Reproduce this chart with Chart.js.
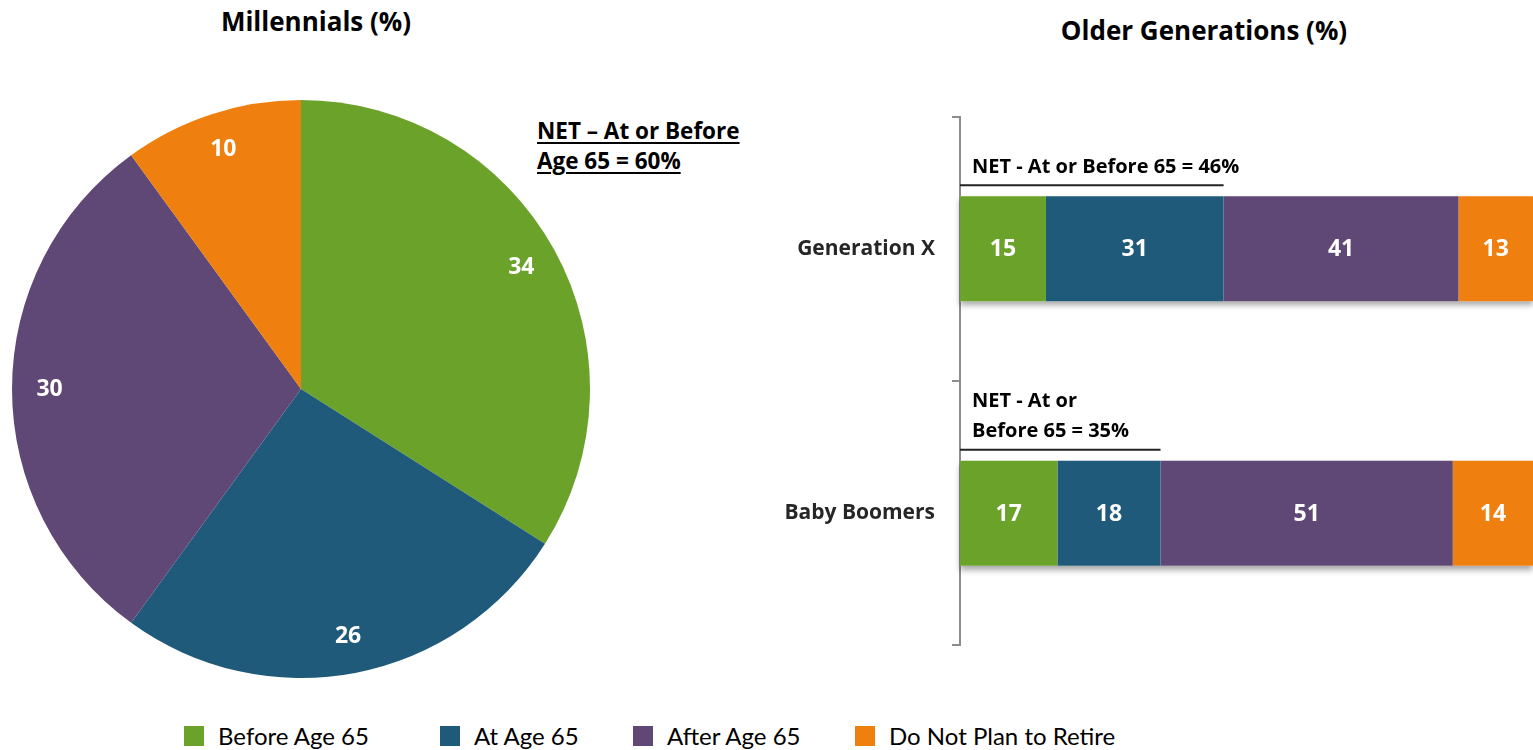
<!DOCTYPE html>
<html>
<head>
<meta charset="utf-8">
<script src="https://cdn.jsdelivr.net/npm/chart.js@4"></script>
<style>
  body { margin: 0; background: #fff; font-family: "Open Sans", sans-serif; }
  #page { position: relative; width: 1533px; height: 750px; overflow: hidden; }
  .title { position: absolute; font-weight: bold; font-size: 26px; color: #000; transform: translateX(-50%); white-space: nowrap; }
  #pieNet { position: absolute; left: 537px; top: 116px; font-weight: bold; font-size: 22.5px; line-height: 30px; text-decoration: underline; text-decoration-thickness: 2px; text-underline-offset: 3px; color: #000; }
  #pieBox { position: absolute; left: 12px; top: 100px; width: 578px; height: 578px; }
  #barBox { position: absolute; left: 700px; top: 87px; width: 833px; height: 588px; }
  #legend { position: absolute; top: 721px; left: 0; height: 28px; font-family: Lato, sans-serif; }
  .item { position: absolute; font-size: 24px; white-space: nowrap; color: #000; line-height: 30px; }
  .item span { position: absolute; left: 0; top: 5px; width: 20px; height: 20px; }
</style>
</head>
<body>
<div id="page">
  <div class="title" style="left:316px; top:3px;">Millennials (%)</div>
  <div class="title" style="left:1204px; top:12px;">Older Generations (%)</div>
  <div id="pieNet">NET &ndash; At or Before<br>Age 65 = 60%</div>
  <div id="pieBox"><canvas id="pie"></canvas></div>
  <div id="barBox"><canvas id="bar"></canvas></div>
  <div id="legend"></div>
</div>
<script>
// data
const seriesNames = ['Before Age 65', 'At Age 65', 'After Age 65', 'Do Not Plan to Retire'];
const colors = ['#6BA229', '#1F5A7A', '#5F4876', '#EF7F0E'];
const millennials = [34, 26, 30, 10];

const generations = ['Generation X', 'Baby Boomers'];
const beforeAge65 = [15, 17];
const atAge65 = [31, 18];
const afterAge65 = [41, 51];
const doNotRetire = [13, 14];
const netValues = [46, 35];
const netLabels = [['NET - At or Before 65 = 46%'], ['NET - At or', 'Before 65 = 35%']];

const labelFont = 'bold 23px "Open Sans"';

// Legend
const legendX = [184, 440, 633, 855];
const legend = document.getElementById('legend');
seriesNames.forEach((name, i) => {
  const d = document.createElement('div');
  d.className = 'item';
  d.style.left = legendX[i] + 'px';
  d.style.paddingLeft = '34px';
  d.innerHTML = '<span style="background:' + colors[i] + '"></span>' + name;
  legend.appendChild(d);
});

// Pie with value labels
const pieLabels = {
  id: 'pieLabels',
  afterDatasetsDraw(chart) {
    const ctx = chart.ctx;
    const meta = chart.getDatasetMeta(0);
    ctx.save();
    ctx.font = labelFont;
    ctx.fillStyle = '#fff';
    ctx.textAlign = 'center';
    ctx.textBaseline = 'middle';
    meta.data.forEach((arc, i) => {
      const mid = (arc.startAngle + arc.endAngle) / 2;
      const r = arc.outerRadius * 0.87;
      ctx.fillText(millennials[i], arc.x + Math.cos(mid) * r, arc.y + Math.sin(mid) * r);
    });
    ctx.restore();
  }
};

new Chart(document.getElementById('pie'), {
  type: 'pie',
  data: {
    labels: seriesNames,
    datasets: [{ data: millennials, backgroundColor: colors, borderWidth: 0 }]
  },
  options: {
    responsive: true,
    maintainAspectRatio: false,
    animation: false,
    layout: { padding: 0 },
    plugins: { legend: { display: false }, tooltip: { enabled: false } }
  },
  plugins: [pieLabels]
});

// Stacked bars: shadow, value labels, NET annotations
const barExtras = {
  id: 'barExtras',
  beforeDatasetsDraw(chart) {
    const ctx = chart.ctx;
    const x = chart.scales.x;
    const meta = chart.getDatasetMeta(0);
    ctx.save();
    ctx.shadowColor = 'rgba(0,0,0,0.35)';
    ctx.shadowBlur = 6;
    ctx.shadowOffsetY = 4;
    ctx.fillStyle = '#fff';
    meta.data.forEach(el => {
      const h = el.height;
      ctx.fillRect(x.getPixelForValue(0), el.y - h / 2, x.getPixelForValue(100) - x.getPixelForValue(0), h);
    });
    ctx.restore();
  },
  afterDatasetsDraw(chart) {
    const ctx = chart.ctx;
    const x = chart.scales.x;
    ctx.save();
    ctx.font = labelFont;
    ctx.fillStyle = '#fff';
    ctx.textAlign = 'center';
    ctx.textBaseline = 'middle';
    chart.data.datasets.forEach((ds, d) => {
      chart.getDatasetMeta(d).data.forEach((el, i) => {
        ctx.fillText(ds.data[i], (el.x + el.base) / 2, el.y + 1);
      });
    });
    // NET lines and text
    const meta = chart.getDatasetMeta(0);
    ctx.fillStyle = '#000';
    ctx.textAlign = 'left';
    ctx.font = 'bold 20px "Open Sans"';
    meta.data.forEach((el, i) => {
      const top = el.y - el.height / 2;
      const lineY = top - 11;
      ctx.strokeStyle = '#222';
      ctx.lineWidth = 2;
      ctx.beginPath();
      ctx.moveTo(chart.chartArea.left, lineY);
      ctx.lineTo(x.getPixelForValue(netValues[i]), lineY);
      ctx.stroke();
      const lines = netLabels[i];
      lines.forEach((t, k) => {
        ctx.fillText(t, chart.chartArea.left + 12, lineY - 18 - (lines.length - 1 - k) * 30);
      });
    });
    ctx.restore();
  }
};

new Chart(document.getElementById('bar'), {
  type: 'bar',
  data: {
    labels: generations,
    datasets: [
      { label: seriesNames[0], data: beforeAge65, backgroundColor: colors[0] },
      { label: seriesNames[1], data: atAge65, backgroundColor: colors[1] },
      { label: seriesNames[2], data: afterAge65, backgroundColor: colors[2] },
      { label: seriesNames[3], data: doNotRetire, backgroundColor: colors[3] }
    ]
  },
  options: {
    indexAxis: 'y',
    responsive: true,
    maintainAspectRatio: false,
    animation: false,
    layout: { padding: { top: 4, bottom: 4, left: 0, right: 0 } },
    datasets: { bar: { barPercentage: 0.397, categoryPercentage: 1, borderWidth: 0 } },
    scales: {
      x: { stacked: true, min: 0, max: 100, display: false },
      y: {
        stacked: true,
        afterFit(scale) { scale.width = 260; },
        border: { display: true, color: '#8c8c8c', width: 2 },
        grid: { display: true, offset: true, drawOnChartArea: false, drawTicks: true, tickLength: 8, color: '#8c8c8c', lineWidth: 2 },
        ticks: { color: '#262626', font: { family: 'Open Sans', weight: 'bold', size: 21 }, padding: 17 }
      }
    },
    plugins: { legend: { display: false }, tooltip: { enabled: false } }
  },
  plugins: [barExtras]
});
</script>
</body>
</html>
